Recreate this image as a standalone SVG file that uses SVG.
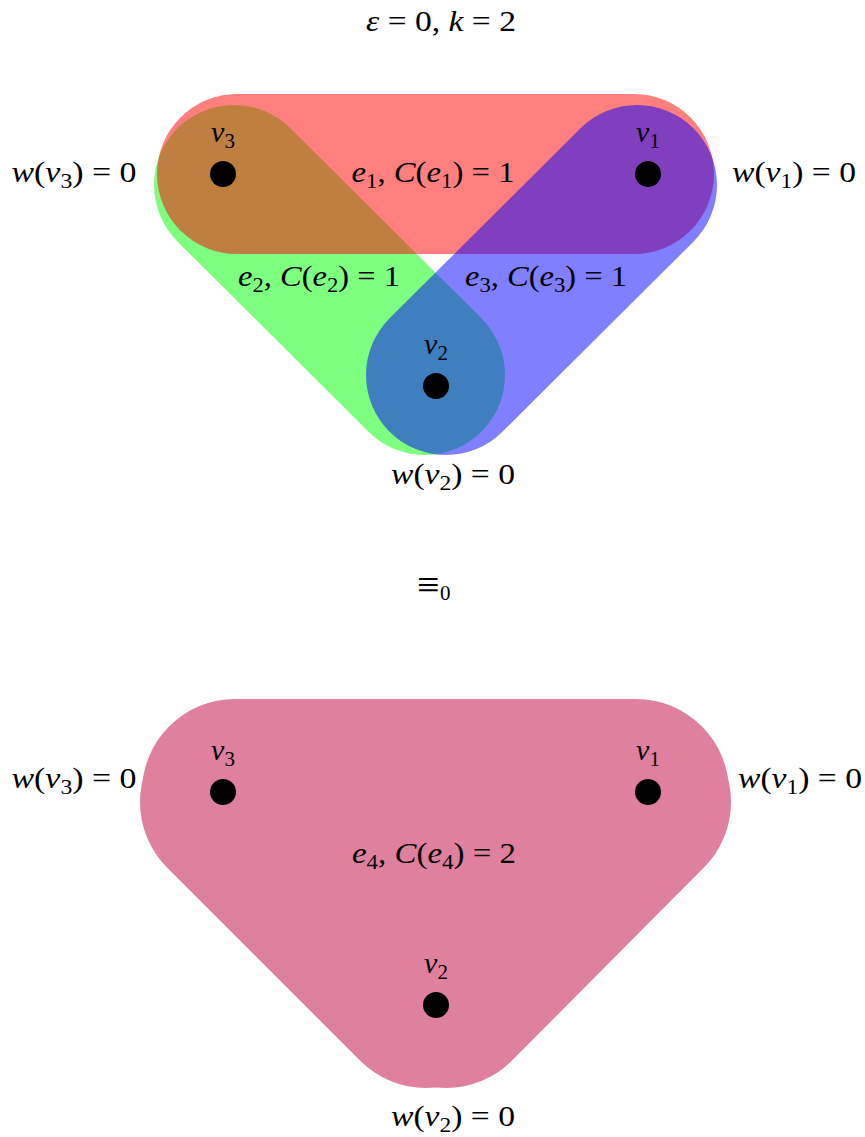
<svg xmlns="http://www.w3.org/2000/svg" width="865" height="1137" viewBox="0 0 865 1137">
<style>
.t{font-family:"Liberation Serif","DejaVu Serif",serif;font-size:30px;fill:#000}
.i{font-style:italic}
.s{font-size:21px}
.edge{fill:none;stroke-linecap:round;stroke-opacity:0.5;stroke-width:160}
.big{fill:none;stroke:#DF809F;stroke-linecap:round;stroke-linejoin:round;stroke-width:186}
.dot{fill:#000}
</style>
<rect width="865" height="1137" fill="#fff"/>
<text class="t" x="441" y="31" text-anchor="middle" textLength="150" lengthAdjust="spacingAndGlyphs"><tspan class="i">ε</tspan> = 0, <tspan class="i">k</tspan> = 2</text>

<g id="e2"><line class="edge" stroke="#00FF00" x1="234" y1="185" x2="425" y2="375"/></g>
<g id="e1"><line class="edge" stroke="#FF0000" x1="237" y1="174" x2="634" y2="174"/></g>
<g id="e3"><line class="edge" stroke="#0000FF" x1="637" y1="185" x2="446" y2="375"/></g>

<g id="v3"><circle class="dot" cx="223" cy="174" r="13"/><text class="t" x="223" y="142" text-anchor="middle"><tspan class="i">v</tspan><tspan class="s" dy="6">3</tspan></text></g>
<g id="v1"><circle class="dot" cx="648" cy="174" r="13"/><text class="t" x="648" y="142" text-anchor="middle"><tspan class="i">v</tspan><tspan class="s" dy="6">1</tspan></text></g>
<g id="v2"><circle class="dot" cx="436" cy="386" r="13"/><text class="t" x="436" y="354" text-anchor="middle"><tspan class="i">v</tspan><tspan class="s" dy="6">2</tspan></text></g>

<g id="labels-top">
<text class="t" x="433" y="182" text-anchor="middle" textLength="163" lengthAdjust="spacingAndGlyphs"><tspan class="i">e</tspan><tspan class="s" dy="6">1</tspan><tspan dy="-6">, </tspan><tspan class="i">C</tspan>(<tspan class="i">e</tspan><tspan class="s" dy="6">1</tspan><tspan dy="-6">) = 1</tspan></text>
<text class="t" x="319" y="286" text-anchor="middle" textLength="162" lengthAdjust="spacingAndGlyphs"><tspan class="i">e</tspan><tspan class="s" dy="6">2</tspan><tspan dy="-6">, </tspan><tspan class="i">C</tspan>(<tspan class="i">e</tspan><tspan class="s" dy="6">2</tspan><tspan dy="-6">) = 1</tspan></text>
<text class="t" x="546" y="286" text-anchor="middle" textLength="162" lengthAdjust="spacingAndGlyphs"><tspan class="i">e</tspan><tspan class="s" dy="6">3</tspan><tspan dy="-6">, </tspan><tspan class="i">C</tspan>(<tspan class="i">e</tspan><tspan class="s" dy="6">3</tspan><tspan dy="-6">) = 1</tspan></text>
<text class="t" x="74" y="182" text-anchor="middle" textLength="125" lengthAdjust="spacingAndGlyphs"><tspan class="i">w</tspan>(<tspan class="i">v</tspan><tspan class="s" dy="6">3</tspan><tspan dy="-6">) = 0</tspan></text>
<text class="t" x="794" y="182" text-anchor="middle" textLength="124" lengthAdjust="spacingAndGlyphs"><tspan class="i">w</tspan>(<tspan class="i">v</tspan><tspan class="s" dy="6">1</tspan><tspan dy="-6">) = 0</tspan></text>
<text class="t" x="453" y="484" text-anchor="middle" textLength="124" lengthAdjust="spacingAndGlyphs"><tspan class="i">w</tspan>(<tspan class="i">v</tspan><tspan class="s" dy="6">2</tspan><tspan dy="-6">) = 0</tspan></text>
</g>

<text class="t" x="417" y="598" style="font-size:40px">≡<tspan class="s" x="440" y="600">0</tspan></text>

<g id="e4">
<polygon fill="#DF809F" points="235,792 636,792 638,802 446,995 426,995 233,802"/>
<line class="big" x1="235" y1="792" x2="636" y2="792"/>
<line class="big" x1="233" y1="802" x2="426" y2="995"/>
<line class="big" x1="638" y1="802" x2="446" y2="995"/>
</g>

<g id="v3b"><circle class="dot" cx="223" cy="792" r="13"/><text class="t" x="223" y="760" text-anchor="middle"><tspan class="i">v</tspan><tspan class="s" dy="6">3</tspan></text></g>
<g id="v1b"><circle class="dot" cx="648" cy="792" r="13"/><text class="t" x="648" y="760" text-anchor="middle"><tspan class="i">v</tspan><tspan class="s" dy="6">1</tspan></text></g>
<g id="v2b"><circle class="dot" cx="436" cy="1005" r="13"/><text class="t" x="436" y="973" text-anchor="middle"><tspan class="i">v</tspan><tspan class="s" dy="6">2</tspan></text></g>

<g id="labels-bottom">
<text class="t" x="434" y="863" text-anchor="middle" textLength="164" lengthAdjust="spacingAndGlyphs"><tspan class="i">e</tspan><tspan class="s" dy="6">4</tspan><tspan dy="-6">, </tspan><tspan class="i">C</tspan>(<tspan class="i">e</tspan><tspan class="s" dy="6">4</tspan><tspan dy="-6">) = 2</tspan></text>
<text class="t" x="74" y="788" text-anchor="middle" textLength="125" lengthAdjust="spacingAndGlyphs"><tspan class="i">w</tspan>(<tspan class="i">v</tspan><tspan class="s" dy="6">3</tspan><tspan dy="-6">) = 0</tspan></text>
<text class="t" x="800" y="788" text-anchor="middle" textLength="124" lengthAdjust="spacingAndGlyphs"><tspan class="i">w</tspan>(<tspan class="i">v</tspan><tspan class="s" dy="6">1</tspan><tspan dy="-6">) = 0</tspan></text>
<text class="t" x="453" y="1126" text-anchor="middle" textLength="124" lengthAdjust="spacingAndGlyphs"><tspan class="i">w</tspan>(<tspan class="i">v</tspan><tspan class="s" dy="6">2</tspan><tspan dy="-6">) = 0</tspan></text>
</g>
<g id="connectors"/>
</svg>
